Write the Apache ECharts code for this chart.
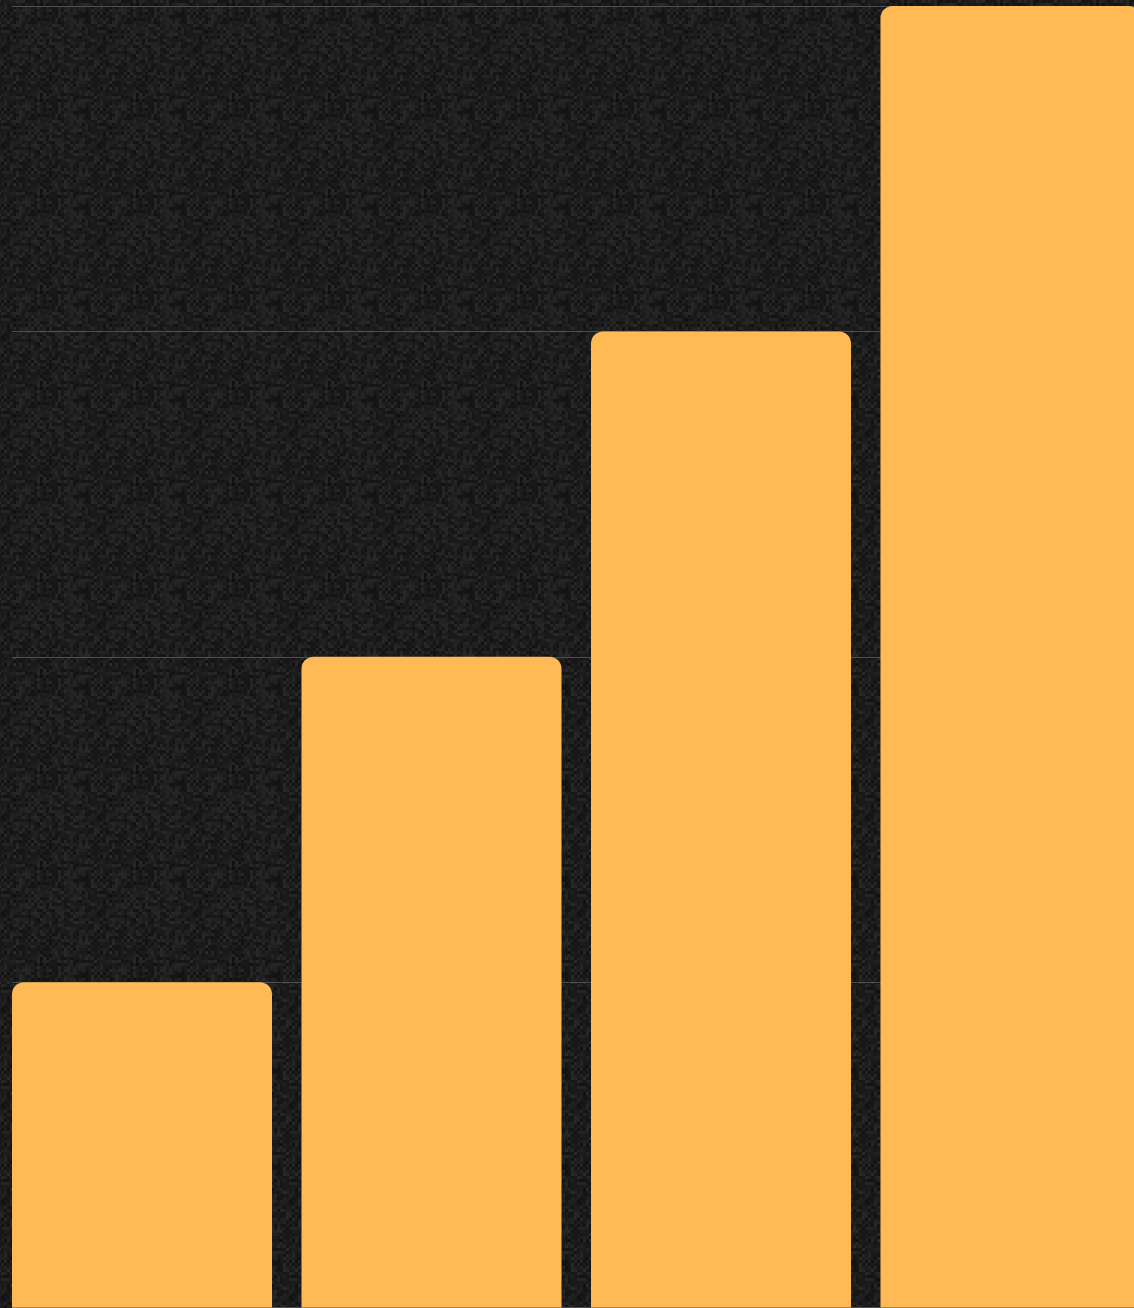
<!DOCTYPE html>
<html>
<head>
<meta charset="utf-8">
<style>
html,body{margin:0;padding:0;background:#1a1a1a;overflow:hidden;width:1134px;height:1308px;}
#wrap{position:relative;width:1134px;height:1308px;overflow:hidden;}
#chart{position:absolute;left:-20px;top:0;width:1200px;height:1308px;}
</style>
<script src="https://cdn.jsdelivr.net/npm/echarts@6/dist/echarts.min.js"></script>
</head>
<body>
<div id="wrap"><div id="chart"></div></div>
<script>
var categories = ['A', 'B', 'C', 'D'];
var values = [1, 2, 3, 4];
var yTicks = [0, 1, 2, 3, 4];

// deterministic texture tile
function hash(x, y) {
  var n = Math.imul(x, 374761393) + Math.imul(y, 668265263);
  n = Math.imul(n ^ (n >>> 13), 1274126177);
  return ((n ^ (n >>> 16)) >>> 0) / 4294967295;
}
var tile = document.createElement('canvas');
tile.width = 96; tile.height = 96;
var tctx = tile.getContext('2d');
var bs = 3;
for (var y = 0; y < 96; y += bs) {
  for (var x = 0; x < 96; x += bs) {
    var v = hash(x / bs, y / bs);
    var d = ((x / bs + y / bs) % 2 === 0) ? 4 : 0;
    var g = Math.round(16 + v * 22 + d);
    tctx.fillStyle = 'rgb(' + g + ',' + g + ',' + g + ')';
    tctx.fillRect(x, y, bs, bs);
  }
}

var chart = echarts.init(document.getElementById('chart'));
chart.setOption({
  backgroundColor: { image: tile, repeat: 'repeat' },
  animation: false,
  grid: [
    { left: 17.25, width: 1158, top: 6, bottom: 0.5, containLabel: false },
    { left: 32, width: 1160, top: 6, bottom: 0.5, containLabel: false }
  ],
  xAxis: [
    { type: 'category', gridIndex: 0, data: categories, axisLine: { show: false }, axisTick: { show: false }, axisLabel: { show: false } },
    { type: 'category', gridIndex: 1, data: categories, axisLine: { show: false }, axisTick: { show: false }, axisLabel: { show: false } }
  ],
  yAxis: [
    { type: 'value', gridIndex: 0, min: yTicks[0], max: yTicks[yTicks.length - 1], interval: 1, splitLine: { show: false }, axisLabel: { show: false }, axisLine: { show: false } },
    { type: 'value', gridIndex: 1, min: yTicks[0], max: yTicks[yTicks.length - 1], interval: 1, splitLine: { show: true, showMinLine: true, showMaxLine: true, lineStyle: { color: '#4e4e4e', width: 1 } }, axisLabel: { show: false }, axisLine: { show: false } }
  ],
  series: [{
    type: 'bar',
    xAxisIndex: 0,
    yAxisIndex: 0,
    data: values,
    barWidth: 260,
    z: 5,
    itemStyle: { color: '#ffba56', borderRadius: [12, 12, 0, 0] }
  }]
});
</script>
</body>
</html>
